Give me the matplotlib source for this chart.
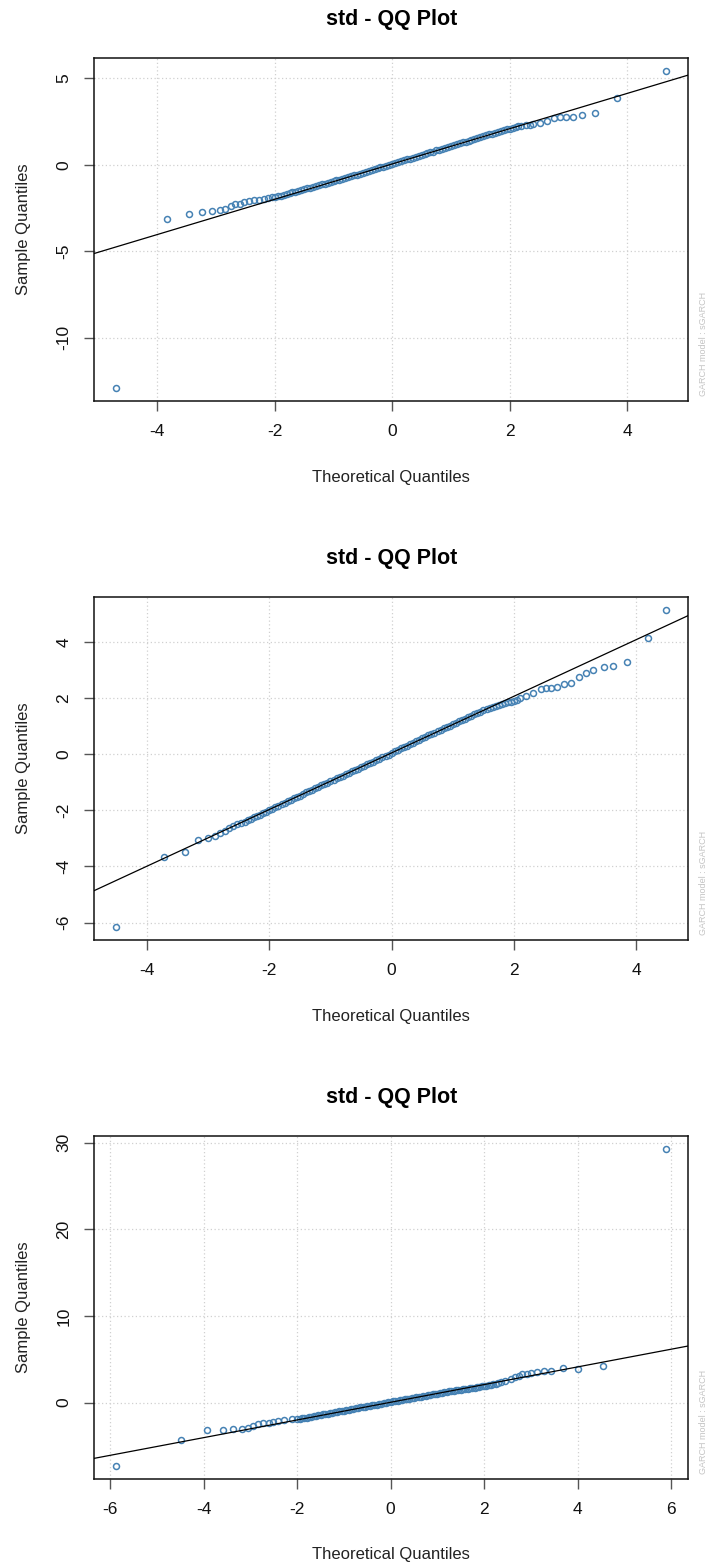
import matplotlib
matplotlib.use('Agg')
import matplotlib.pyplot as plt

plt.rcParams['font.family'] = ['Liberation Sans', 'DejaVu Sans']
plt.rcParams['axes.unicode_minus'] = False

# ---- data ----
# panel 1
p1_theo = [-4.70, -3.84, -3.47, -3.24, -3.07, -2.94, -2.85, -2.74, -2.67, -2.59, -2.52, -2.44,
           -2.36, -2.27, -2.19, -2.12, -2.04,
           -2.00, -1.95, -1.90, -1.85, -1.80, -1.75, -1.70, -1.65, -1.60, -1.55, -1.50, -1.45,
           -1.40, -1.35, -1.30, -1.25, -1.20, -1.15, -1.10, -1.05, -1.00, -0.95, -0.90, -0.85,
           -0.80, -0.75, -0.70, -0.65, -0.60, -0.55, -0.50, -0.45, -0.40, -0.35, -0.30, -0.25,
           -0.20, -0.15, -0.10, -0.05, 0.00, 0.05, 0.10, 0.15, 0.20, 0.25, 0.30, 0.35, 0.40,
           0.45, 0.50, 0.55, 0.60, 0.65, 0.70, 0.75, 0.80, 0.85, 0.90, 0.95, 1.00, 1.05, 1.10,
           1.15, 1.20, 1.25, 1.30, 1.35, 1.40, 1.45, 1.50, 1.55, 1.60, 1.65, 1.70, 1.75, 1.80,
           1.85, 1.90, 1.95, 2.00, 2.05, 2.10, 2.15, 2.20,
           2.28, 2.34, 2.40, 2.51, 2.63, 2.75, 2.86, 2.96, 3.08, 3.23, 3.46, 3.82, 4.67]
p1_sample = [-12.93, -3.12, -2.85, -2.73, -2.66, -2.60, -2.56, -2.37, -2.28, -2.25, -2.17, -2.09,
             -2.03, -2.02, -1.98, -1.92, -1.84,
             -1.87, -1.82, -1.78, -1.73, -1.69, -1.64, -1.59, -1.55, -1.50, -1.46, -1.41, -1.36,
             -1.32, -1.27, -1.23, -1.18, -1.13, -1.09, -1.04, -0.99, -0.94, -0.90, -0.85, -0.80,
             -0.76, -0.71, -0.66, -0.61, -0.56, -0.51, -0.46, -0.41, -0.36, -0.31, -0.26, -0.20,
             -0.15, -0.10, -0.05, 0.00, 0.04, 0.10, 0.15, 0.21, 0.26, 0.31, 0.36, 0.41, 0.46,
             0.52, 0.57, 0.62, 0.67, 0.72, 0.77, 0.83, 0.88, 0.93, 0.98, 1.04, 1.09, 1.14, 1.19,
             1.25, 1.30, 1.35, 1.40, 1.45, 1.51, 1.56, 1.61, 1.66, 1.71, 1.76, 1.81, 1.86, 1.91,
             1.96, 2.01, 2.06, 2.10, 2.14, 2.18, 2.22, 2.26,
             2.30, 2.33, 2.38, 2.43, 2.53, 2.73, 2.78, 2.78, 2.76, 2.90, 3.02, 3.89, 5.44]
p1_line = (0.05, 1.02)  # intercept, slope

# panel 2
p2_theo = [-4.50, -3.72, -3.38, -3.17, -3.00, -2.89, -2.81, -2.72, -2.66, -2.59, -2.53, -2.46,
           -2.40, -2.35, -2.30, -2.25, -2.20, -2.15, -2.10, -2.05, -2.00, -1.95, -1.90, -1.85,
           -1.80, -1.75, -1.70, -1.65, -1.60, -1.55, -1.50, -1.45, -1.40, -1.35, -1.30, -1.25,
           -1.20, -1.15, -1.10, -1.05, -1.00, -0.95, -0.90, -0.85, -0.80, -0.75, -0.70, -0.65,
           -0.60, -0.55, -0.50, -0.45, -0.40, -0.35, -0.30, -0.25, -0.20, -0.15, -0.10, -0.05,
           0.00, 0.05, 0.10, 0.15, 0.20, 0.25, 0.30, 0.35, 0.40, 0.45, 0.50, 0.55, 0.60, 0.65,
           0.70, 0.75, 0.80, 0.85, 0.90, 0.95, 1.00, 1.05, 1.10, 1.15, 1.20, 1.25, 1.30, 1.35,
           1.40, 1.45, 1.50, 1.55, 1.60, 1.65, 1.70, 1.75, 1.80, 1.85, 1.90, 1.95, 2.00, 2.05,
           2.10,
           2.19, 2.31, 2.44, 2.52, 2.60, 2.70, 2.82, 2.93, 3.06, 3.18, 3.29, 3.47, 3.62, 3.85,
           4.19, 4.49]
p2_sample = [-6.17, -3.65, -3.47, -3.05, -2.97, -2.90, -2.79, -2.72, -2.61, -2.57, -2.48, -2.44,
             -2.40, -2.35, -2.30, -2.25, -2.20, -2.15, -2.10, -2.05, -2.00, -1.94, -1.89, -1.83,
             -1.77, -1.72, -1.67, -1.62, -1.57, -1.52, -1.47, -1.41, -1.36, -1.31, -1.26, -1.21,
             -1.16, -1.11, -1.06, -1.01, -0.96, -0.91, -0.86, -0.81, -0.76, -0.71, -0.66, -0.61,
             -0.56, -0.51, -0.46, -0.41, -0.36, -0.31, -0.26, -0.21, -0.16, -0.11, -0.06, -0.01,
             0.04, 0.10, 0.15, 0.21, 0.26, 0.31, 0.36, 0.41, 0.46, 0.51, 0.57, 0.62, 0.67, 0.72,
             0.77, 0.82, 0.87, 0.92, 0.97, 1.02, 1.07, 1.12, 1.17, 1.22, 1.27, 1.32, 1.37, 1.42,
             1.47, 1.52, 1.57, 1.61, 1.65, 1.69, 1.73, 1.76, 1.79, 1.82, 1.85, 1.88, 1.91, 1.95,
             2.00,
             2.07, 2.18, 2.32, 2.36, 2.36, 2.40, 2.50, 2.54, 2.75, 2.90, 3.00, 3.11, 3.15, 3.29,
             4.15, 5.15]
p2_line = (0.05, 1.01)

# panel 3
p3_theo = [-5.87, -4.49, -3.93, -3.59, -3.38, -3.19, -3.05, -2.94, -2.84, -2.73, -2.61, -2.51,
           -2.41, -2.28, -2.12,
           -2.00, -1.95, -1.90, -1.85, -1.80, -1.75, -1.70, -1.65, -1.60, -1.55, -1.50, -1.45,
           -1.40, -1.35, -1.30, -1.25, -1.20, -1.15, -1.10, -1.05, -1.00, -0.95, -0.90, -0.85,
           -0.80, -0.75, -0.70, -0.65, -0.60, -0.55, -0.50, -0.45, -0.40, -0.35, -0.30, -0.25,
           -0.20, -0.15, -0.10, -0.05, 0.00, 0.05, 0.10, 0.15, 0.20, 0.25, 0.30, 0.35, 0.40,
           0.45, 0.50, 0.55, 0.60, 0.65, 0.70, 0.75, 0.80, 0.85, 0.90, 0.95, 1.00, 1.05, 1.10,
           1.15, 1.20, 1.25, 1.30, 1.35, 1.40, 1.45, 1.50, 1.55, 1.60, 1.65, 1.70, 1.75, 1.80,
           1.85, 1.90, 1.95, 2.00, 2.05, 2.10, 2.15, 2.20, 2.25,
           2.29, 2.37, 2.45, 2.58, 2.66, 2.74, 2.82, 2.91, 3.00, 3.14, 3.28, 3.44, 3.69, 4.01,
           4.54, 5.90]
p3_sample = [-7.34, -4.33, -3.20, -3.20, -3.05, -3.01, -2.90, -2.70, -2.47, -2.39, -2.32, -2.24,
             -2.15, -2.04, -1.92,
             -1.92, -1.87, -1.82, -1.77, -1.72, -1.67, -1.61, -1.56, -1.51, -1.46, -1.41, -1.36,
             -1.31, -1.26, -1.21, -1.16, -1.10, -1.05, -1.00, -0.96, -0.91, -0.86, -0.81, -0.76,
             -0.71, -0.67, -0.61, -0.56, -0.51, -0.46, -0.42, -0.37, -0.32, -0.27, -0.22, -0.17,
             -0.11, -0.06, -0.01, 0.04, 0.09, 0.14, 0.19, 0.23, 0.28, 0.33, 0.38, 0.42, 0.47,
             0.51, 0.55, 0.60, 0.65, 0.70, 0.75, 0.80, 0.85, 0.90, 0.95, 1.00, 1.05, 1.10, 1.15,
             1.20, 1.24, 1.29, 1.33, 1.38, 1.42, 1.46, 1.50, 1.54, 1.58, 1.62, 1.66, 1.70, 1.74,
             1.78, 1.82, 1.86, 1.90, 1.95, 2.00, 2.06, 2.12, 2.19,
             2.32, 2.43, 2.55, 2.78, 2.95, 3.10, 3.29, 3.33, 3.37, 3.48, 3.68, 3.68, 4.03, 3.91,
             4.18, 29.30]
p3_line = (0.04, 1.02)

panels = [
    (p1_theo, p1_sample, p1_line, [-4, -2, 0, 2, 4], [-10, -5, 0, 5]),
    (p2_theo, p2_sample, p2_line, [-4, -2, 0, 2, 4], [-6, -4, -2, 0, 2, 4]),
    (p3_theo, p3_sample, p3_line, [-6, -4, -2, 0, 2, 4, 6], [0, 10, 20, 30]),
]

fig = plt.figure(figsize=(7.07, 15.66), dpi=100)
bottoms = [0.7439, 0.3997, 0.0556]

for (theo, sample, line, xt, yt), b in zip(panels, bottoms):
    ax = fig.add_axes([0.1334, b, 0.8403, 0.2190])
    ax.set_axisbelow(True)
    ax.grid(True, linestyle=(0, (1, 2)), color='#d0d0d0', linewidth=0.9)
    ax.plot(theo, sample, 'o', ms=4.3, mfc='none', mec='#4682B4', mew=1.1, zorder=2)
    ax.axline((0, line[0]), slope=line[1], color='black', lw=0.9, zorder=3)
    ax.margins(0.04)
    ax.set_xticks(xt)
    ax.set_yticks(yt)
    ax.tick_params(axis='both', direction='out', length=7.5, width=1.0, color='#555555',
                   labelsize=12.5, pad=9, labelcolor='#111111')
    ax.tick_params(axis='y', labelrotation=90)
    for lab in ax.get_yticklabels():
        lab.set_va('center')
    for sp in ax.spines.values():
        sp.set_linewidth(1.1)
        sp.set_color('#111111')
    ax.set_title('std - QQ Plot', fontweight='bold', fontsize=15.5, pad=24)
    ax.set_xlabel('Theoretical Quantiles', fontsize=12, va='center', color='#222222')
    ax.xaxis.set_label_coords(0.5, -0.2216)
    ax.set_ylabel('Sample Quantiles', fontsize=12, va='center', color='#222222')
    ax.yaxis.set_label_coords(-0.120, 0.5)
    ax.text(1.0248, 0.015, 'GARCH model : sGARCH', transform=ax.transAxes, rotation=90,
            ha='center', va='bottom', fontsize=6.5, color='#c4c4c4')

fig.savefig('out.png', dpi=100)
